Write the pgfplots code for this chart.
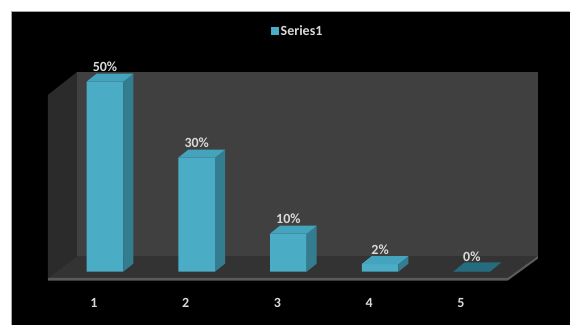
\documentclass[border=0pt]{standalone}
\usepackage{pgfplots}
\pgfplotsset{compat=1.18}
\usepackage{fontspec}
\setmainfont{Carlito}
\definecolor{barfront}{HTML}{4BACC6}
\definecolor{barside}{HTML}{347D90}
\definecolor{bartop}{HTML}{45A4BD}
\definecolor{barzero}{HTML}{246C7E}
\definecolor{wallback}{HTML}{404040}
\definecolor{wallleft}{HTML}{2B2B2B}
\definecolor{floorc}{HTML}{333333}
\definecolor{flooredge}{HTML}{5A5A5A}
\definecolor{txt}{HTML}{D9D9D9}
\newcommand\lf{\fontsize{14}{16}\selectfont\bfseries}
\begin{document}
\begin{tikzpicture}
\useasboundingbox (0,0) rectangle (570pt,325pt);
\fill[white] (0,0) rectangle (570pt,325pt);
\fill[black] (11pt,0) rectangle (570pt,314pt);
\draw[gray!70, line width=1pt] (11pt,0) -- (11pt,314pt) -- (570pt,314pt);
\begin{axis}[
  x=91.7pt, y=3.8pt,
  xmin=0, xmax=6, ymin=-10, ymax=70,
  anchor=south west, at={(13.3pt,15.4pt)},
  axis line style={draw=none}, tick style={draw=none},
  clip=false,
  xtick={1,2,3,4,5}, xticklabels={1,2,3,4,5},
  ytick=\empty,
  xticklabel style={anchor=center, xshift=-11pt, yshift=6.6pt, text=txt, font=\lf},
  legend style={at={(0.5166,0.9148)}, anchor=center, fill=none, draw=none,
    text=txt, font=\lf, inner sep=0pt},
]
% walls and floor
\fill[wallleft] (axis cs:0.378,-1.68) -- (axis cs:0.378,46.5) -- (axis cs:0.694,52.5) -- (axis cs:0.694,4.1) -- cycle;
\fill[wallback] (axis cs:0.694,4.1) rectangle (axis cs:5.72,52.5);
\fill[floorc] (axis cs:0.378,-1.68) -- (axis cs:5.39,-1.68) -- (axis cs:5.72,4.1) -- (axis cs:0.694,4.1) -- cycle;
\fill[flooredge] (axis cs:0.378,-1.68) -- (axis cs:5.39,-1.68) -- (axis cs:5.72,4.1) -- (axis cs:5.72,3.4) -- (axis cs:5.39,-2.4) -- (axis cs:0.378,-2.4) -- cycle;

\addplot[ybar, bar width=0.4, fill=barfront, draw=none,
  legend image code/.code={\fill[barfront] (0pt,-4pt) rectangle (8pt,4pt);},
  nodes near coords={\pgfmathprintnumber[assume math mode=true]{\pgfplotspointmeta}\%},
  every node near coord/.append style={text=txt, font=\lf, anchor=base, yshift=10pt, inner sep=0pt},
] coordinates {(1,50) (2,30) (3,10) (4,2) (5,0)};
\addlegendentry{Series1}

% side faces
\addplot[forget plot, fill=barside, draw=none] coordinates {(1.2,0) (1.2,50) (1.309,52.1) (1.309,2.1)} -- cycle;
\addplot[forget plot, fill=barside, draw=none] coordinates {(2.2,0) (2.2,30) (2.309,32.1) (2.309,2.1)} -- cycle;
\addplot[forget plot, fill=barside, draw=none] coordinates {(3.2,0) (3.2,10) (3.309,12.1) (3.309,2.1)} -- cycle;
\addplot[forget plot, fill=barside, draw=none] coordinates {(4.2,0) (4.2,2) (4.309,4.1) (4.309,2.1)} -- cycle;
% top faces
\addplot[forget plot, fill=bartop, draw=none] coordinates {(0.8,50) (1.2,50) (1.309,52.1) (0.909,52.1)} -- cycle;
\addplot[forget plot, fill=bartop, draw=none] coordinates {(1.8,30) (2.2,30) (2.309,32.1) (1.909,32.1)} -- cycle;
\addplot[forget plot, fill=bartop, draw=none] coordinates {(2.8,10) (3.2,10) (3.309,12.1) (2.909,12.1)} -- cycle;
\addplot[forget plot, fill=bartop, draw=none] coordinates {(3.8,2) (4.2,2) (4.309,4.1) (3.909,4.1)} -- cycle;
\addplot[forget plot, fill=barzero, draw=none] coordinates {(4.8,0) (5.2,0) (5.32,2.4) (4.92,2.4)} -- cycle;
\end{axis}
\end{tikzpicture}
\end{document}
